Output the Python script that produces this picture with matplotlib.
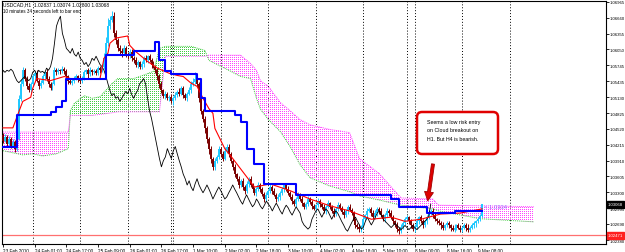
import numpy as np
import matplotlib
matplotlib.use("Agg")
import matplotlib.pyplot as plt
from matplotlib.patches import FancyBboxPatch, FancyArrow
from matplotlib.path import Path
from matplotlib.transforms import IdentityTransform
from matplotlib.colors import to_rgb

plt.rcParams['font.family'] = ['DejaVu Sans Condensed', 'Liberation Sans', 'DejaVu Sans']

# prices are in pips (1/10000), e.g. 10452 -> 1.0452
first_open = 10440
closes = [10429, 10437, 10423, 10433, 10420, 10427, 10414, 10433,
          10510, 10539, 10565,
          10549, 10534, 10526, 10539, 10553, 10559, 10545, 10534, 10541, 10553, 10561, 10549, 10538, 10530, 10539,
          10565, 10561, 10565, 10563, 10567, 10563,
          10553, 10545, 10541, 10545,
          10549, 10553, 10549, 10545, 10549,
          10561, 10565,
          10557, 10565, 10561, 10563, 10559,
          10569, 10565, 10572, 10588,
          10617, 10650, 10661, 10669,
          10636, 10623, 10607, 10603, 10598, 10607, 10596, 10592, 10600, 10588,
          10584, 10576, 10580, 10572,
          10578, 10588, 10584, 10592, 10584, 10576, 10572, 10565, 10553, 10539, 10526, 10516, 10520, 10511,
          10514, 10505, 10511, 10518, 10524, 10520, 10530, 10518, 10511, 10520, 10526, 10539, 10543, 10549,
          10539, 10511, 10487, 10472, 10453,
          10433, 10414, 10395, 10379, 10391, 10398,
          10414, 10404, 10395, 10410, 10418, 10404, 10391,
          10379, 10365, 10356, 10344, 10352, 10340, 10333, 10346, 10356, 10344,
          10336, 10329, 10336, 10344, 10336, 10327, 10317, 10325, 10333, 10340, 10333, 10325, 10317, 10321, 10329,
          10336, 10344, 10336, 10329, 10321, 10313, 10307, 10317, 10325, 10317, 10309, 10302, 10307, 10317,
          10311, 10303, 10298, 10305, 10313, 10307,
          10302, 10294, 10302, 10309, 10302, 10294, 10288, 10298, 10305, 10300, 10292, 10286, 10294, 10302,
          10296, 10290, 10274, 10267, 10263, 10259,
          10263, 10278, 10286, 10294, 10298, 10290, 10282, 10290, 10298, 10294, 10286, 10278, 10286, 10294,
          10290, 10282, 10274, 10267, 10259, 10255, 10263, 10271, 10278, 10282, 10274,
          10267, 10259, 10263, 10274, 10282, 10274, 10267, 10274, 10282, 10290, 10294, 10286,
          10278, 10274, 10270, 10266, 10262, 10266, 10270, 10266, 10262, 10258, 10262, 10266, 10262,
          10258, 10262, 10266, 10262, 10258, 10262, 10266, 10270, 10274, 10278, 10284, 10307]
# shadow lengths above / below the candle body (pips)
wick_up = [4, 6, 3, 5, 4, 6, 3, 5,
           8, 10, 6,
           5, 4, 6, 3, 5, 4, 6, 3, 5, 4, 3, 6, 4, 5, 3,
           6, 4, 5, 3, 6, 4,
           5, 3, 4, 6,
           4, 5, 3, 6, 4,
           5, 3,
           4, 6, 3, 5, 4,
           5, 4, 6, 10,
           12, 15, 8, 10,
           8, 6, 5, 7, 4, 6, 5, 4, 6, 5,
           4, 6, 5, 3,
           5, 4, 6, 3, 5, 4, 6, 3, 5, 4, 6, 3, 5, 4, 3, 6, 4, 5, 3, 6, 4, 5, 3, 4, 6, 5, 8, 12, 6, 4, 5, 3, 4,
           5, 4, 6, 3, 5, 4,
           6, 3, 5, 7, 4, 5, 3,
           4, 6, 3, 5, 4, 6, 3, 5, 4, 6,
           3, 5, 4, 6, 3, 5, 4, 6, 3, 5, 4, 6, 3, 5, 4,
           5, 3, 4, 6, 3, 5, 4, 3, 6, 4, 5, 3, 4, 6, 3, 5, 4, 3, 5, 4,
           3, 5, 4, 6, 3, 4, 5, 3, 6, 4, 3, 5, 4, 3, 5, 4, 3, 6, 4, 5,
           4, 6, 3, 5, 4, 3, 5, 6, 3, 4, 5, 3, 4, 6, 3, 5, 4, 3, 5, 4, 6, 3, 4, 5, 3,
           4, 3, 5, 6, 3, 4, 5, 3, 4, 6, 3, 5, 4, 3, 5, 4, 6, 3, 4, 5, 3, 4, 6, 3, 5,
           4, 3, 5, 4, 6, 3, 4, 5, 3, 4, 5, 1]
wick_dn = [5, 3, 6, 4, 5, 3, 6, 4,
           3, 5, 4,
           4, 6, 3, 5, 4, 6, 3, 5, 4, 3, 6, 4, 5, 3, 4,
           3, 5, 4, 6, 3, 5,
           4, 6, 3, 5,
           5, 3, 6, 4, 5,
           3, 4,
           6, 3, 5, 4, 3,
           4, 5, 3, 4,
           3, 5, 6, 4,
           6, 8, 5, 6, 7, 4, 6, 5, 4, 6,
           5, 4, 6, 4,
           4, 6, 3, 5, 4, 6, 3, 5, 6, 8, 5, 4, 6, 3, 5, 4, 6, 3, 4, 5, 3, 6, 4, 5, 3, 4, 5, 4, 6, 8, 6, 7, 8,
           8, 10, 9, 7, 6, 5,
           4, 6, 5, 3, 5, 6, 4,
           6, 5, 4, 6, 3, 5, 6, 4, 5, 3,
           5, 4, 6, 3, 5, 4, 6, 3, 5, 4, 6, 3, 5, 4, 6,
           4, 6, 3, 5, 4, 6, 3, 5, 4, 3, 6, 4, 5, 3, 4, 6, 3, 5, 4, 6,
           5, 4, 6, 3, 5, 4, 6, 3, 4, 5, 3, 6, 4, 5, 3, 4, 6, 5, 4, 6,
           5, 3, 4, 6, 3, 5, 4, 3, 5, 6, 4, 3, 5, 4, 6, 3, 5, 4, 6, 5, 4, 3, 5, 4, 6,
           5, 4, 6, 3, 5, 4, 6, 3, 5, 4, 3, 6, 4, 5, 3, 6, 4, 5, 3, 4, 6, 3, 5, 4, 3,
           5, 4, 3, 6, 4, 5, 3, 4, 6, 3, 4, 2]

# tenkan-sen / kijun-sen (bar, pips)
tenkan_x = [0, 5, 8, 10, 14, 15, 17, 24, 31, 34, 49, 51, 53, 54, 57, 63, 64, 67, 73, 78, 84, 88, 91, 95, 98,
            101, 104, 106, 107, 112, 116, 120, 127, 135, 145, 155, 165, 175, 186, 196, 203, 211, 221, 231, 242]
tenkan_y = [10454, 10454, 10485, 10505, 10513, 10530, 10549, 10545, 10553, 10549, 10549, 10588, 10598, 10617,
            10627, 10631, 10613, 10601, 10582, 10569, 10559, 10555, 10553, 10540, 10534, 10511, 10491, 10482,
            10453, 10414, 10395, 10375, 10340, 10346, 10333, 10317, 10304, 10294, 10278, 10282, 10274, 10278,
            10288, 10290, 10298]
kijun_x = [0, 7, 24, 27, 30, 32, 52, 66, 77, 79, 82, 85, 98, 100, 102, 117, 120, 123, 127, 132, 148, 196, 200,
           214, 228, 242]
kijun_y = [10418, 10478, 10485, 10495, 10505, 10549, 10594, 10603, 10619, 10584, 10563, 10557, 10549, 10511,
           10487, 10478, 10466, 10414, 10385, 10346, 10325, 10317, 10302, 10290, 10294, 10294]

# senkou span A / B (cloud), bar index runs 26 bars past the last candle
cloud_x = [0, 5, 10, 15, 20, 27, 33, 34, 36, 41, 45, 49, 55, 58, 66, 72, 76, 79, 82, 95, 102, 104, 115, 120,
           125, 128, 130, 134, 140, 145, 150, 155, 165, 175, 180, 190, 201, 217, 220, 241, 268]
span_a = [10410, 10406, 10402, 10404, 10400, 10404, 10414, 10487, 10501, 10516, 10511, 10514, 10539, 10549,
          10549, 10557, 10563, 10607, 10611, 10611, 10603, 10584, 10563, 10553, 10549, 10511, 10490, 10470,
          10447, 10418, 10383, 10358, 10342, 10331, 10323, 10315, 10305, 10298, 10294, 10279, 10273]
span_b = [10446, 10446, 10446, 10446, 10446, 10446, 10446, 10478, 10478, 10478, 10478, 10480, 10483, 10485,
          10485, 10485, 10485, 10485, 10592, 10592, 10592, 10594, 10594, 10594, 10578, 10565, 10545, 10534,
          10503, 10487, 10470, 10460, 10451, 10445, 10395, 10366, 10319, 10317, 10305, 10304, 10302]

day_breaks = [15, 39, 63, 85, 86, 110, 134, 158, 182, 204, 208, 232, 256]
time_ticks = list(range(0, 241, 16))
time_labels = ["23 Feb 2010", "24 Feb 01:00", "24 Feb 17:00", "25 Feb 09:00", "26 Feb 01:00", "26 Feb 17:00",
               "1 Mar 10:00", "2 Mar 02:00", "2 Mar 18:00", "3 Mar 10:00", "4 Mar 02:00", "4 Mar 18:00",
               "5 Mar 10:00", "8 Mar 00:00", "8 Mar 16:00", "9 Mar 08:00"]
price_ticks = ["1.06965", "1.06660", "1.06355", "1.06050", "1.05745", "1.05435", "1.05130", "1.04825",
               "1.04520", "1.04215", "1.03910", "1.03605", "1.03300", "1.02995", "1.02690", "1.02380"]
support_level = 10247.1
last_price = 10306.8

BULL = '#1ec8ff'
BEAR = '#7a0000'
GREEN = '#44cc44'
MAGENTA = '#ff44ff'

W, H = 625, 253
fig = plt.figure(figsize=(W / 100, H / 100), dpi=100)
ax = fig.add_axes([2 / W, 8 / H, 604 / W, 243 / H])
ax.set_xlim(-0.5, 304.5)
ax.set_ylim(10230.3, 10698.4)

# cloud: dotted texture clipped to the area between the spans
cx = np.array(cloud_x)
a = np.array(span_a, float)
b = np.array(span_b, float)
yy, xx = np.mgrid[0:243, 0:604]
dots = ((yy % 2 == 0) & (xx % 2 == 0)).astype(float)
for mask, col in ((a >= b, GREEN), (a < b, MAGENTA)):
    poly = ax.fill_between(cx, a, b, where=mask, interpolate=True, facecolor='none', edgecolor='none')
    paths = poly.get_paths()
    if not paths:
        continue
    rgba = np.zeros((243, 604, 4))
    rgba[..., :3] = to_rgb(col)
    rgba[..., 3] = dots
    im = ax.imshow(rgba, extent=(-0.5, 304.5, 10230.3, 10698.4), origin='upper',
                   interpolation='nearest', aspect='auto', zorder=1)
    im.set_clip_path(Path.make_compound_path(*paths), transform=ax.transData)
ax.plot(cx, a, color=GREEN, lw=0.7, ls=(0, (1, 1)), zorder=2)
ax.plot(cx, b, color=MAGENTA, lw=0.7, ls=(0, (1, 1)), zorder=2)

for d in day_breaks:
    ax.axvline(d, color='black', lw=0.7, ls=(0, (1, 2)), zorder=0.5)

ax.axhline(support_level, color='#ff7070', lw=0.9, zorder=2)

# candles
c = np.array(closes, float)
o = np.r_[first_open, c[:-1]]
hi = np.maximum(o, c) + np.array(wick_up)
lo = np.minimum(o, c) - np.array(wick_dn)
bars = np.arange(len(c))
up = c >= o
for m, col in ((up, BULL), (~up, BEAR)):
    ax.vlines(bars[m], lo[m], hi[m], color=col, lw=0.7, zorder=3)
    ax.vlines(bars[m], o[m], c[m], color=col, lw=1.4, zorder=3)

# chikou span = closes shifted back 26 bars
ax.plot(bars - 26, c, color='black', lw=0.6, zorder=4)
ax.plot(tenkan_x, tenkan_y, color='red', lw=0.8, zorder=5)
ax.step(kijun_x, kijun_y, where='post', color='#0000ff', lw=1.5, zorder=5)

# axes look
for s in ax.spines.values():
    s.set_color('black')
    s.set_linewidth(0.8)
ax.yaxis.tick_right()
ax.set_yticks([int(p.replace('.', '')) / 10 for p in price_ticks])
ax.set_yticklabels(price_ticks)
ax.tick_params(axis='y', length=2, width=0.6, pad=0.6, labelsize=3.1)
ax.set_xticks(time_ticks)
ax.set_xticklabels(time_labels, ha='left')
ax.tick_params(axis='x', length=2, width=0.6, pad=0.8, labelsize=3.3)

yt = ax.get_yaxis_transform()
ax.text(1.003, last_price, '1.03068', transform=yt, color='white', fontsize=3.1, va='center', ha='left',
        bbox=dict(boxstyle='square,pad=0.3', fc='black', ec='black'), zorder=10)
ax.text(1.003, support_level, '1.02471', transform=yt, color='white', fontsize=3.1, va='center', ha='left',
        bbox=dict(boxstyle='square,pad=0.3', fc='#ff2020', ec='#ff2020'), zorder=10)
ax.text(243, 10303, '< 1.0334', color='#a070ff', fontsize=4.2, va='center', ha='left', zorder=6)

fig.text(3 / W, 1 - 2 / H, 'USDCAD,H1  1.02837 1.03074 1.02800 1.03068', fontsize=3.5, va='top')
fig.text(3 / W, 1 - 9 / H, '10 minutes 34 seconds left to bar end', fontsize=3.3, va='top')

# note box and arrow (pixel positions, origin bottom-left)
idt = IdentityTransform()
box = FancyBboxPatch((417, H - 155), 81, 42, boxstyle='round,pad=0,rounding_size=5',
                     fc='white', ec='#e00000', lw=1.8, transform=idt, zorder=20)
fig.patches.append(box)
for k, line in enumerate(["Seems a low risk entry", "on Cloud breakout on", "H1. But H4 is bearish."]):
    fig.text(427 / W, (H - 120 - 8.5 * k) / H, line, fontsize=3.8, va='top', ha='left', zorder=21)
arr = FancyArrow(433, H - 165, -4, -28, width=3, head_width=9, head_length=9, length_includes_head=False,
                 fc='#e00000', ec='#a00000', lw=0.6, transform=idt, zorder=20)
fig.patches.append(arr)

fig.savefig('out.png', dpi=100)
